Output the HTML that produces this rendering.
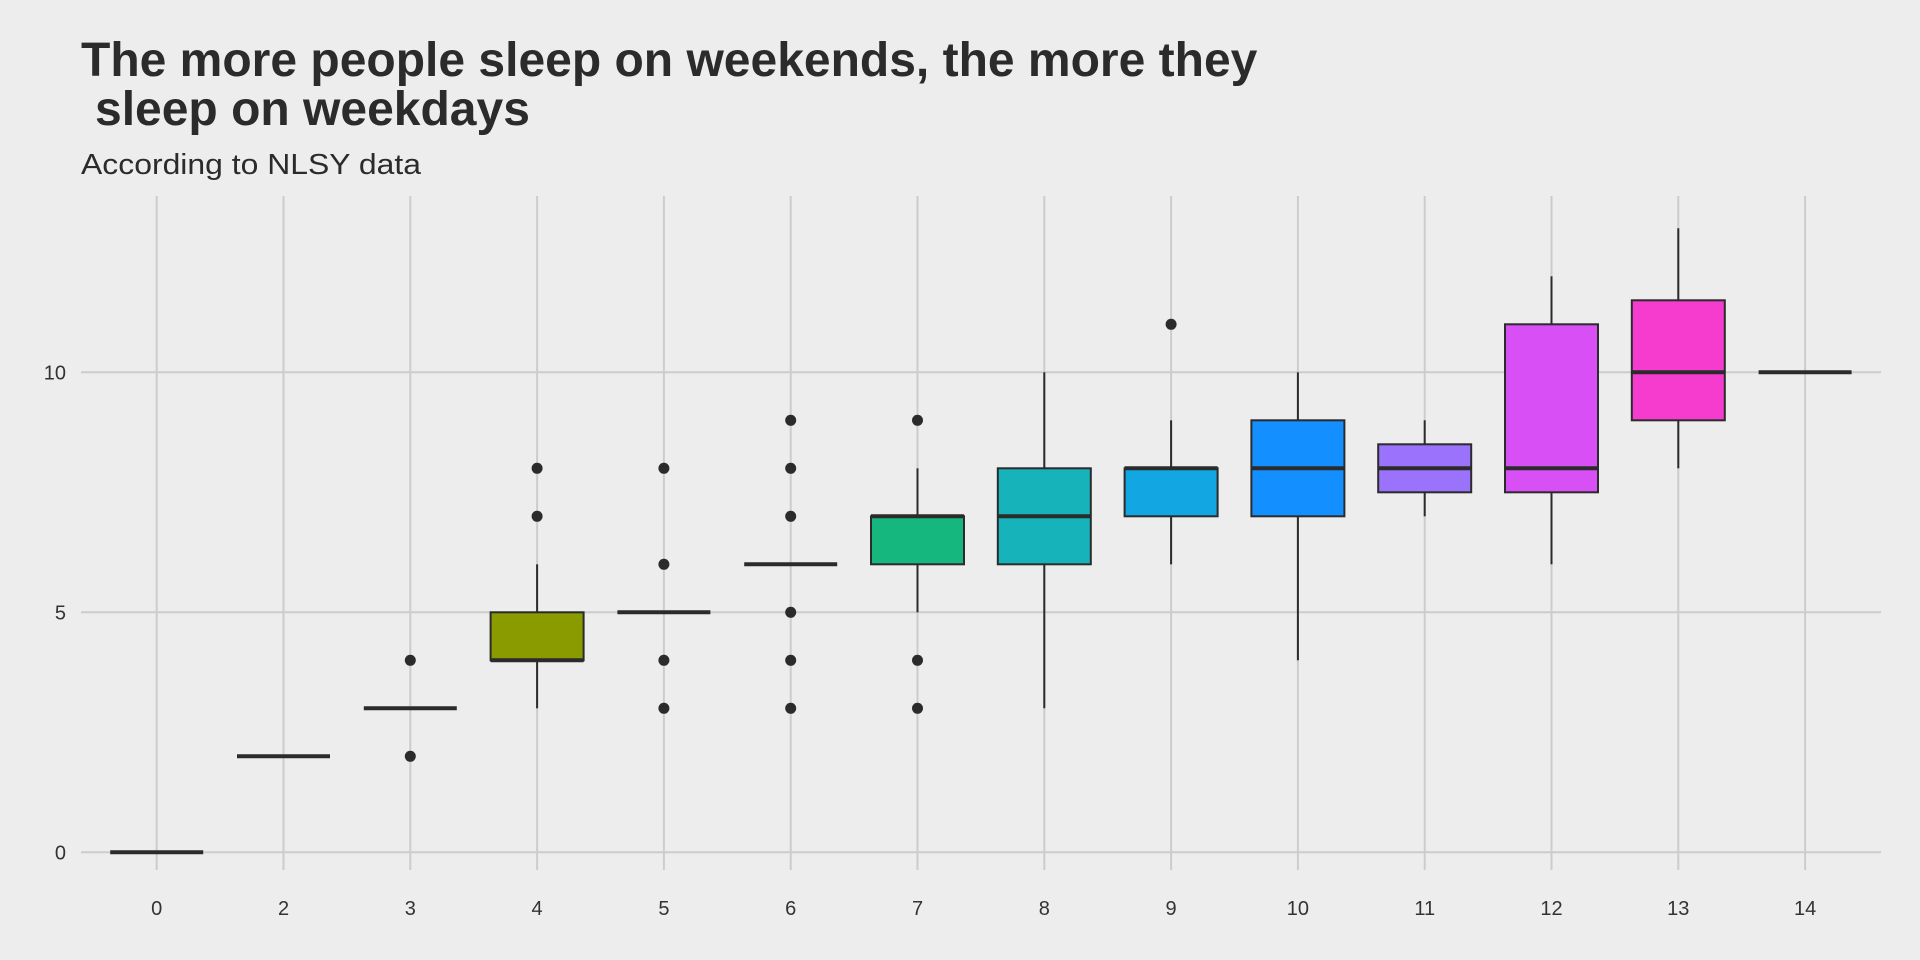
<!DOCTYPE html>
<html><head><meta charset="utf-8"><style>
html,body{margin:0;padding:0;background:#EDEDED;}
svg{display:block;font-family:"Liberation Sans",Arial,sans-serif;}
</style></head><body>
<svg id="chart" width="1920" height="960">
<rect width="1920" height="960" fill="#EDEDED"/>
<text x="81" y="76" font-size="48" font-weight="bold" fill="#2B2B2B">The more people sleep on weekends, the more they</text>
<text x="95" y="125" font-size="48" font-weight="bold" fill="#2B2B2B">sleep on weekdays</text>
<text x="81" y="174" font-size="29" textLength="340" lengthAdjust="spacingAndGlyphs" fill="#2B2B2B">According to NLSY data</text>
<g id="grid"></g><g id="marks"></g><g id="axes"></g>
</svg>
<script>
const categories=["0","2","3","4","5","6","7","8","9","10","11","12","13","14"];
const q1=[0,2,3,4,5,6,6,6,7,7,7.5,7.5,9,10];
const med=[0,2,3,4,5,6,7,7,8,8,8,8,10,10];
const q3=[0,2,3,5,5,6,7,8,8,9,8.5,11,11.5,10];
const wlo=[0,2,3,3,5,6,5,3,6,4,7,6,8,10];
const whi=[0,2,3,6,5,6,8,10,9,10,9,12,13,10];
const outliers=[[],[],[4,2],[7,8],[8,6,4,3],[9,8,7,5,4,3],[9,4,3],[],[11],[],[],[],[],[]];
const colors=["#F8766D","#E38900","#C49A00","#8A9B00","#53B400","#00BC56","#16B77E","#17B3BA","#12A6E3","#148FFF","#9A72FB","#D84FF5","#F53CCF","#FF62BC"];
const yTicks=[0,5,10];
const NS="http://www.w3.org/2000/svg";
const x0=156.7, dx=126.8;
const xs=i=>x0+i*dx;
const ys=v=>852.3-v*48;
const bw=93;
function mk(tag,attrs,parent){const e=document.createElementNS(NS,tag);for(const k in attrs)e.setAttribute(k,attrs[k]);parent.appendChild(e);return e;}
const grid=document.getElementById('grid'),marks=document.getElementById('marks'),axes=document.getElementById('axes');
yTicks.forEach(t=>{
 const l=mk('line',{x1:81,x2:1881,y1:ys(t),y2:ys(t),stroke:'#CCCCCC','stroke-width':2},grid);
 
 
 const tx=mk('text',{x:66,y:ys(t)+7,'font-size':20,'text-anchor':'end',fill:'#333'},axes);
 tx.textContent=t;
 
 
});
categories.forEach((c,i)=>{
 const x=xs(i);
 const l=mk('line',{x1:x,x2:x,y1:196,y2:870,stroke:'#CCCCCC','stroke-width':2},grid);
 
 
 const tx=mk('text',{x:x,y:915,'font-size':20,'text-anchor':'middle',fill:'#333'},axes);
 tx.textContent=c;
 
 
 const g=mk('g',{},marks);
 
 
 mk('line',{x1:x,x2:x,y1:ys(whi[i]),y2:ys(q3[i]),stroke:'#2B2B2B','stroke-width':2},g);
 mk('line',{x1:x,x2:x,y1:ys(q1[i]),y2:ys(wlo[i]),stroke:'#2B2B2B','stroke-width':2},g);
 mk('rect',{x:x-bw/2,y:ys(q3[i]),width:bw,height:Math.max(0,ys(q1[i])-ys(q3[i])),fill:colors[i],stroke:'#2B2B2B','stroke-width':2},g);
 mk('line',{x1:x-bw/2,x2:x+bw/2,y1:ys(med[i]),y2:ys(med[i]),stroke:'#2B2B2B','stroke-width':4},g);
 outliers[i].forEach(v=>{
  const p=mk('circle',{cx:x,cy:ys(v),r:5.5,fill:'#2B2B2B'},g);
  
  
 });
});
</script>
</body></html>
